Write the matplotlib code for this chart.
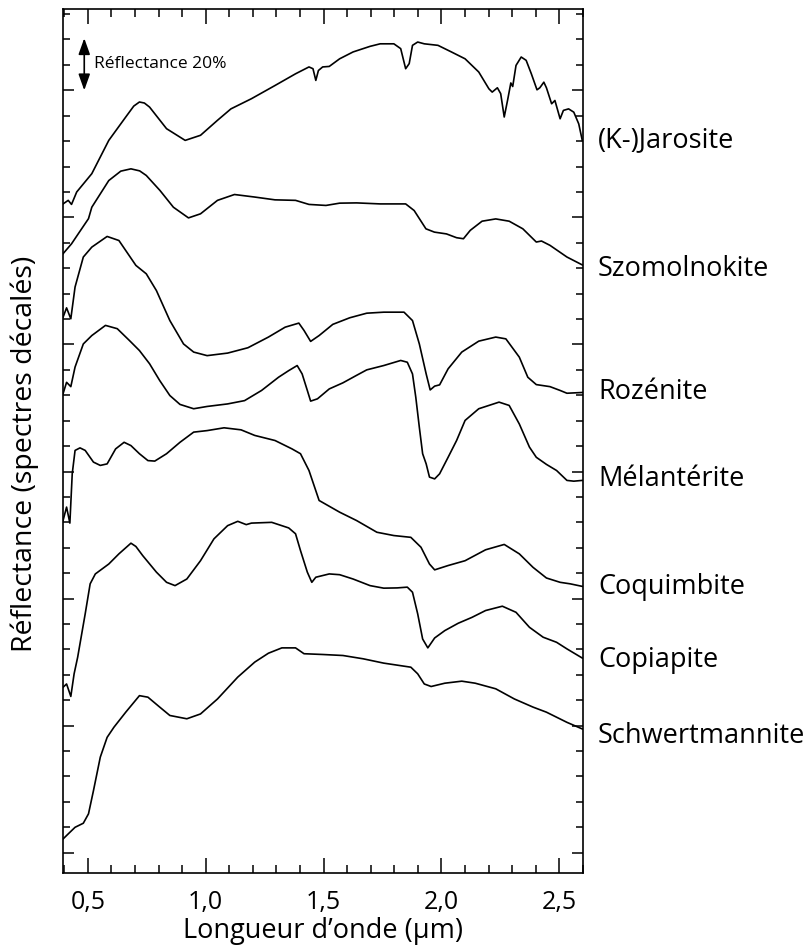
import numpy as np
import matplotlib.pyplot as plt
from matplotlib.ticker import MultipleLocator, FuncFormatter

plt.rcParams['font.family'] = ['Open Sans', 'DejaVu Sans']

# Spectres décalés : longueur d'onde (µm) / réflectance (%, avec décalage)
jarosite_wl = [0.395, 0.417, 0.431, 0.453, 0.517, 0.589, 0.661, 0.695, 0.719, 0.740, 0.762, 0.834,
               0.913, 0.978, 1.050, 1.107, 1.194, 1.294, 1.381, 1.438, 1.455, 1.467, 1.478, 1.496,
               1.524, 1.568, 1.625, 1.697, 1.740, 1.798, 1.827, 1.848, 1.863, 1.877, 1.899, 1.927,
               1.985, 2.042, 2.100, 2.158, 2.201, 2.215, 2.237, 2.251, 2.266, 2.280, 2.294, 2.302,
               2.316, 2.338, 2.359, 2.381, 2.405, 2.417, 2.434, 2.445, 2.467, 2.481, 2.503, 2.517,
               2.539, 2.561, 2.582, 2.597]
jarosite_r = [255.3, 256.7, 255.1, 260.0, 267.2, 280.3, 289.5, 293.8, 295.4, 295.0, 293.4, 284.9,
              280.3, 282.3, 288.2, 292.7, 296.7, 301.9, 306.5, 309.2, 308.5, 303.9, 307.8, 309.2,
              309.4, 312.4, 315.1, 317.3, 318.3, 318.3, 316.4, 308.5, 310.5, 317.7, 319.0, 318.3,
              317.7, 315.1, 312.4, 307.2, 300.6, 299.3, 301.0, 298.7, 289.5, 296.0, 302.9, 301.5,
              309.8, 313.1, 311.8, 306.5, 300.2, 301.0, 303.2, 301.0, 294.7, 296.0, 288.8, 292.1,
              292.7, 291.4, 286.8, 280.3]

szomolnokite_wl = [0.395, 0.431, 0.460, 0.503, 0.517, 0.589, 0.640, 0.683, 0.720, 0.748, 0.806, 0.863,
                   0.927, 0.978, 1.050, 1.122, 1.208, 1.294, 1.381, 1.438, 1.510, 1.568, 1.640, 1.740,
                   1.848, 1.884, 1.934, 1.970, 2.021, 2.064, 2.093, 2.122, 2.172, 2.230, 2.287, 2.345,
                   2.402, 2.424, 2.460, 2.532, 2.597]
szomolnokite_r = [235.7, 239.6, 243.6, 249.5, 254.0, 264.5, 268.2, 269.1, 268.3, 266.5, 260.6, 254.0,
                  249.8, 251.4, 256.7, 259.0, 258.0, 256.9, 256.7, 255.1, 254.7, 255.6, 255.7, 255.3,
                  255.3, 252.7, 245.5, 244.2, 243.5, 242.0, 241.6, 244.9, 248.5, 249.4, 248.5, 245.5,
                  240.3, 240.7, 239.0, 234.4, 231.3]

rozenite_wl = [0.395, 0.410, 0.428, 0.446, 0.481, 0.517, 0.582, 0.632, 0.704, 0.748, 0.791, 0.848,
               0.906, 0.949, 1.006, 1.093, 1.179, 1.266, 1.337, 1.395, 1.417, 1.445, 1.481, 1.539,
               1.611, 1.683, 1.755, 1.841, 1.877, 1.906, 1.935, 1.952, 1.971, 1.992, 2.028, 2.086,
               2.158, 2.230, 2.273, 2.330, 2.366, 2.402, 2.460, 2.503, 2.532, 2.597]
rozenite_r = [210.7, 214.4, 210.1, 222.6, 234.4, 238.3, 242.5, 240.9, 231.1, 227.8, 221.2, 209.4,
              200.2, 197.0, 195.6, 196.6, 198.7, 202.9, 206.8, 208.4, 205.5, 201.2, 203.5, 207.9,
              210.5, 212.3, 212.7, 212.7, 209.4, 200.2, 188.4, 182.1, 183.6, 184.1, 190.4, 197.0,
              201.3, 202.9, 202.2, 195.0, 187.1, 184.2, 183.4, 181.9, 180.8, 181.1]

melanterite_wl = [0.395, 0.410, 0.428, 0.446, 0.481, 0.517, 0.575, 0.625, 0.676, 0.719, 0.762, 0.805,
                  0.848, 0.891, 0.949, 1.006, 1.093, 1.165, 1.237, 1.309, 1.352, 1.388, 1.409, 1.431,
                  1.445, 1.474, 1.524, 1.582, 1.639, 1.683, 1.755, 1.827, 1.855, 1.877, 1.891, 1.906,
                  1.920, 1.935, 1.949, 1.971, 1.992, 2.028, 2.064, 2.100, 2.158, 2.244, 2.287, 2.330,
                  2.373, 2.402, 2.445, 2.488, 2.532, 2.561, 2.597]
melanterite_r = [180.6, 185.1, 183.4, 191.1, 200.2, 203.5, 207.5, 206.2, 201.6, 197.6, 192.4, 185.8,
                 179.9, 176.4, 174.7, 175.6, 176.6, 177.9, 181.9, 187.1, 189.7, 191.7, 188.4, 181.9,
                 177.7, 178.6, 182.5, 184.9, 187.8, 190.0, 191.7, 193.7, 193.0, 188.4, 179.2, 167.4,
                 157.0, 153.0, 147.8, 147.1, 149.1, 155.6, 162.2, 170.1, 174.7, 177.3, 176.0, 168.7,
                 159.6, 155.6, 152.8, 150.4, 146.5, 146.2, 146.5]

coquimbite_wl = [0.395, 0.410, 0.424, 0.434, 0.446, 0.467, 0.489, 0.524, 0.553, 0.582, 0.618, 0.654,
                 0.683, 0.719, 0.755, 0.784, 0.834, 0.891, 0.949, 1.006, 1.078, 1.150, 1.208, 1.294,
                 1.366, 1.402, 1.438, 1.481, 1.568, 1.640, 1.726, 1.798, 1.870, 1.913, 1.949, 1.971,
                 2.028, 2.100, 2.187, 2.266, 2.330, 2.388, 2.445, 2.503, 2.546, 2.597]
coquimbite_r = [130.7, 136.0, 129.7, 149.1, 158.3, 159.3, 158.3, 153.7, 152.4, 153.0, 158.9, 161.5,
                160.2, 157.0, 154.3, 154.1, 157.0, 161.5, 165.5, 166.1, 167.2, 166.4, 164.2, 162.2,
                158.9, 157.0, 150.4, 138.6, 134.0, 130.7, 126.1, 124.8, 124.1, 120.2, 113.6, 111.3,
                113.0, 114.9, 119.2, 121.3, 117.6, 112.3, 108.1, 106.4, 105.8, 104.8]

copiapite_wl = [0.395, 0.410, 0.428, 0.442, 0.457, 0.489, 0.510, 0.532, 0.589, 0.632, 0.683, 0.704,
                0.733, 0.791, 0.834, 0.870, 0.920, 0.978, 1.035, 1.093, 1.136, 1.172, 1.194, 1.280,
                1.352, 1.381, 1.402, 1.431, 1.450, 1.467, 1.524, 1.568, 1.625, 1.697, 1.755, 1.812,
                1.855, 1.877, 1.899, 1.920, 1.942, 1.971, 2.014, 2.071, 2.129, 2.187, 2.258, 2.316,
                2.373, 2.431, 2.488, 2.532, 2.597]
copiapite_r = [65.1, 66.4, 61.5, 70.4, 76.9, 94.0, 105.8, 109.7, 113.6, 117.6, 121.8, 120.5,
               116.9, 110.4, 106.4, 105.1, 107.7, 114.9, 123.5, 128.7, 130.4, 129.1, 129.7, 130.0,
               127.8, 125.5, 118.9, 110.4, 106.4, 108.4, 109.7, 109.4, 107.7, 105.1, 104.1, 104.2,
               104.5, 102.5, 94.0, 84.1, 80.6, 84.5, 87.4, 90.3, 92.6, 95.3, 97.0, 94.6,
               88.7, 84.8, 82.8, 80.2, 76.6]

schwert_wl = [0.395, 0.417, 0.446, 0.481, 0.503, 0.524, 0.553, 0.582, 0.611, 0.661, 0.719, 0.755,
              0.805, 0.848, 0.920, 0.978, 1.050, 1.136, 1.208, 1.266, 1.323, 1.381, 1.417, 1.496,
              1.582, 1.668, 1.755, 1.870, 1.899, 1.927, 1.956, 2.014, 2.086, 2.143, 2.230, 2.309,
              2.388, 2.445, 2.532, 2.597]
schwert_r = [5.4, 7.4, 10.0, 11.6, 15.3, 24.4, 37.6, 45.4, 49.4, 55.3, 61.8, 61.2,
             57.3, 54.0, 52.7, 54.6, 60.5, 69.1, 75.0, 78.5, 80.6, 80.6, 78.3, 78.0,
             77.6, 76.3, 74.6, 73.0, 70.4, 66.4, 65.4, 66.7, 67.5, 66.7, 64.5, 60.5,
             57.3, 55.3, 51.3, 48.7]

minerals = ['(K-)Jarosite', 'Szomolnokite', 'Rozénite', 'Mélantérite',
            'Coquimbite', 'Copiapite', 'Schwertmannite']
label_y = [280.3, 229.5, 181.1, 146.9, 104.7, 76.0, 46.1]

spectra = [(jarosite_wl, jarosite_r), (szomolnokite_wl, szomolnokite_r),
           (rozenite_wl, rozenite_r), (melanterite_wl, melanterite_r),
           (coquimbite_wl, coquimbite_r), (copiapite_wl, copiapite_r),
           (schwert_wl, schwert_r)]

fig = plt.figure(figsize=(8.05, 9.47), dpi=100)
ax = fig.add_axes([0.0783, 0.0781, 0.6459, 0.9124])

for wl, r in spectra:
    ax.plot(wl, r, color='black', lw=1.2)

ax.set_xlim(0.395, 2.6)
ax.set_ylim(-8, 332)

ax.xaxis.set_major_locator(MultipleLocator(0.5))
ax.xaxis.set_minor_locator(MultipleLocator(0.1))
ax.yaxis.set_major_locator(MultipleLocator(50))
ax.yaxis.set_minor_locator(MultipleLocator(10))
ax.xaxis.set_major_formatter(FuncFormatter(lambda v, p: f'{v:.1f}'.replace('.', ',')))
ax.tick_params(axis='both', which='both', direction='in', top=True, right=True, width=1.1)
ax.tick_params(axis='x', which='major', length=11, labelsize=18, pad=12)
ax.tick_params(axis='x', which='minor', length=5.5)
ax.tick_params(axis='y', which='major', length=8, labelleft=False)
ax.tick_params(axis='y', which='minor', length=5)
for s in ax.spines.values():
    s.set_linewidth(1.2)

ax.set_xlabel('Longueur d’onde (µm)', fontsize=19.5, labelpad=2)
ax.set_ylabel('Réflectance (spectres décalés)', fontsize=20.5)
ax.yaxis.set_label_coords(-0.047, 0.485)

# échelle 20 %
ax.annotate('', xy=(0.485, 300), xytext=(0.485, 320.5),
            arrowprops=dict(arrowstyle='<|-|>,head_length=0.7,head_width=0.25',
                            color='black', lw=1.2, mutation_scale=14, shrinkA=0, shrinkB=0))
ax.text(0.525, 310.5, 'Réflectance 20%', fontsize=12.5, va='center', ha='left')

trans = ax.get_yaxis_transform()
for name, y in zip(minerals, label_y):
    ax.text(1.029, y, name, transform=trans, fontsize=19.5, va='center', ha='left', clip_on=False)

fig.savefig('out.png', dpi=100)
